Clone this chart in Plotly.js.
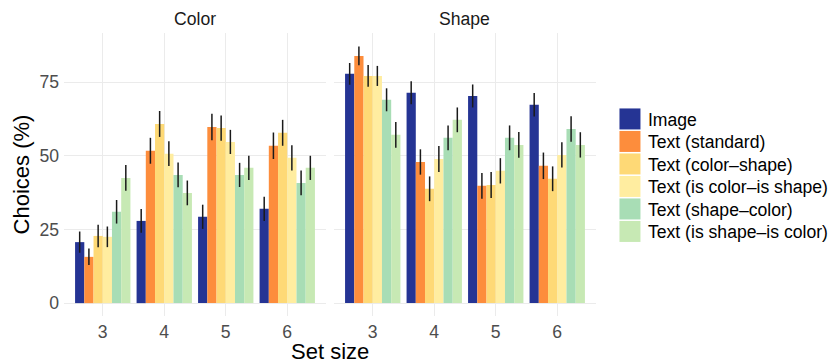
<!DOCTYPE html>
<html>
<head>
<meta charset="utf-8">
<script src="https://cdn.plot.ly/plotly-3.0.1.min.js"></script>
<style>html,body{margin:0;padding:0;background:#fff;}#chart{width:836px;height:362px;}</style>
</head>
<body>
<div id="chart"></div>
<script>
// ---- data ----
const setSizes = ['3', '4', '5', '6'];
const panels = ['Color', 'Shape'];
const seriesNames = ['Image', 'Text (standard)', 'Text (color\u2013shape)', 'Text (is color\u2013is shape)', 'Text (shape\u2013color)', 'Text (is shape\u2013is color)'];
const seriesColors = ['#253494', '#FD8D3C', '#FED976', '#FFEDA0', '#A8DDB5', '#C7E9B4'];

// Color panel
const colorImage = [20.7, 27.9, 29.3, 32.0];
const colorStandard = [15.7, 51.7, 59.8, 53.4];
const colorColorShape = [22.8, 60.8, 59.4, 57.8];
const colorIsColorIsShape = [22.5, 50.7, 54.7, 49.3];
const colorShapeColor = [31.0, 43.5, 43.5, 40.8];
const colorIsShapeIsColor = [42.5, 37.4, 45.9, 45.9];
const colorImageErr = [3.6, 4.0, 4.1, 4.1];
const colorStandardErr = [2.8, 4.4, 4.5, 4.5];
const colorColorShapeErr = [3.8, 4.4, 4.3, 4.4];
const colorIsColorIsShapeErr = [3.5, 4.2, 4.1, 4.3];
const colorShapeColorErr = [4.0, 4.2, 4.1, 4.2];
const colorIsShapeIsColorErr = [4.4, 4.2, 4.1, 4.1];

// Shape panel
const shapeImage = [77.8, 71.4, 70.3, 67.3];
const shapeStandard = [83.9, 47.9, 39.8, 46.6];
const shapeColorShape = [77.1, 38.8, 40.1, 42.2];
const shapeIsColorIsShape = [77.1, 48.9, 44.9, 50.3];
const shapeShapeColor = [69.0, 56.1, 56.1, 59.1];
const shapeIsShapeIsColor = [57.1, 62.2, 53.7, 53.7];
const shapeImageErr = [3.7, 3.9, 3.9, 4.0];
const shapeStandardErr = [3.2, 4.3, 4.4, 4.5];
const shapeColorShapeErr = [3.7, 4.2, 4.4, 4.2];
const shapeIsColorIsShapeErr = [3.4, 4.4, 4.3, 4.3];
const shapeShapeColorErr = [3.9, 4.2, 4.2, 4.3];
const shapeIsShapeIsColorErr = [4.4, 4.2, 4.4, 4.3];

const yTickVals = [0, 25, 50, 75];

// ---- build ----
const panelValues = [
  [colorImage, colorStandard, colorColorShape, colorIsColorIsShape, colorShapeColor, colorIsShapeIsColor],
  [shapeImage, shapeStandard, shapeColorShape, shapeIsColorIsShape, shapeShapeColor, shapeIsShapeIsColor]
];
const panelErrors = [
  [colorImageErr, colorStandardErr, colorColorShapeErr, colorIsColorIsShapeErr, colorShapeColorErr, colorIsShapeIsColorErr],
  [shapeImageErr, shapeStandardErr, shapeColorShapeErr, shapeIsColorIsShapeErr, shapeShapeColorErr, shapeIsShapeIsColorErr]
];

const traces = [];
panels.forEach((p, pi) => {
  seriesNames.forEach((name, si) => {
    traces.push({
      type: 'bar',
      name: name,
      legendgroup: name,
      showlegend: pi === 0,
      x: setSizes,
      y: panelValues[pi][si],
      xaxis: pi === 0 ? 'x' : 'x2',
      yaxis: 'y',
      marker: {color: seriesColors[si], line: {width: 0}},
      error_y: {type: 'data', array: panelErrors[pi][si], visible: true, color: '#1a1a1a', thickness: 1.5, width: 0},
      hoverinfo: 'skip'
    });
  });
});

const FONT = 'Liberation Sans, Arial, Helvetica, sans-serif';
const SMALL = 17.6;
const BIG = 22;
const xaxisBase = {
  type: 'category',
  categoryarray: setSizes,
  range: [-0.63, 3.63],
  showgrid: true,
  gridcolor: '#ebebeb',
  gridwidth: 1,
  zeroline: false,
  showline: false,
  ticks: '',
  ticklabelstandoff: 3,
  tickfont: {family: FONT, size: SMALL, color: '#4d4d4d'},
  fixedrange: true
};

const layout = {
  width: 836,
  height: 362,
  margin: {l: 64, r: 240, t: 33, b: 46, pad: 0, autoexpand: false},
  paper_bgcolor: '#ffffff',
  plot_bgcolor: '#ffffff',
  font: {family: FONT, color: '#000'},
  barmode: 'group',
  bargap: 0.1,
  bargroupgap: 0,
  showlegend: true,
  legend: {
    x: 1.0225, xanchor: 'left', y: 0.7597, yanchor: 'top',
    font: {family: FONT, size: SMALL, color: '#000'},
    traceorder: 'normal',
    bgcolor: 'rgba(0,0,0,0)',
    borderwidth: 0,
    itemclick: false, itemdoubleclick: false
  },
  xaxis: Object.assign({}, xaxisBase, {domain: [0, 0.4925], anchor: 'y'}),
  xaxis2: Object.assign({}, xaxisBase, {domain: [0.5075, 1], anchor: 'y'}),
  yaxis: {
    range: [-4.37, 91.67],
    tickvals: yTickVals,
    ticktext: yTickVals.map(String),
    showgrid: true,
    gridcolor: '#ebebeb',
    gridwidth: 1,
    zeroline: false,
    showline: false,
    ticks: '',
    ticklabelstandoff: 4,
    tickfont: {family: FONT, size: SMALL, color: '#4d4d4d'},
    title: {text: 'Choices (%)', font: {family: FONT, size: BIG, color: '#000'}, standoff: 3},
    fixedrange: true
  },
  annotations: [
    {text: 'Color', xref: 'x domain', yref: 'paper', x: 0.5, y: 1, xanchor: 'center', yanchor: 'middle', yshift: 14, showarrow: false, font: {family: FONT, size: SMALL, color: '#1a1a1a'}},
    {text: 'Shape', xref: 'x2 domain', yref: 'paper', x: 0.5, y: 1, xanchor: 'center', yanchor: 'middle', yshift: 14, showarrow: false, font: {family: FONT, size: SMALL, color: '#1a1a1a'}},
    {text: 'Set size', xref: 'paper', yref: 'paper', x: 0.5, y: 0, xanchor: 'center', yanchor: 'middle', yshift: -35.2, showarrow: false, font: {family: FONT, size: BIG, color: '#000'}}
  ]
};

function tweakLegend() {
  const gd = document.getElementById('chart');
  gd.querySelectorAll('.legend .legendpoints path').forEach(p => {
    p.setAttribute('d', 'M12.5,10.5H-8.5V-10.5H12.5Z');
  });
  const items = gd.querySelectorAll('.legend g.traces');
  let y0 = null;
  items.forEach((g, i) => {
    const t = g.getAttribute('transform') || '';
    const m = t.match(/translate\(\s*([-\d.e]+)[ ,]+([-\d.e]+)\s*\)/);
    if (!m) return;
    if (g.dataset.y0 === undefined) g.dataset.y0 = m[2];
    const x = parseFloat(m[1]);
    if (y0 === null) y0 = parseFloat(items[0].dataset.y0 || m[2]);
    g.setAttribute('transform', 'translate(' + x + ',' + (y0 + 22.5 * i) + ')');
  });
}

Plotly.newPlot('chart', traces, layout, {displayModeBar: false, staticPlot: true}).then(gd => {
  tweakLegend();
  gd.on('plotly_afterplot', tweakLegend);
  setTimeout(tweakLegend, 50);
  setTimeout(tweakLegend, 300);
});
</script>
</body>
</html>
